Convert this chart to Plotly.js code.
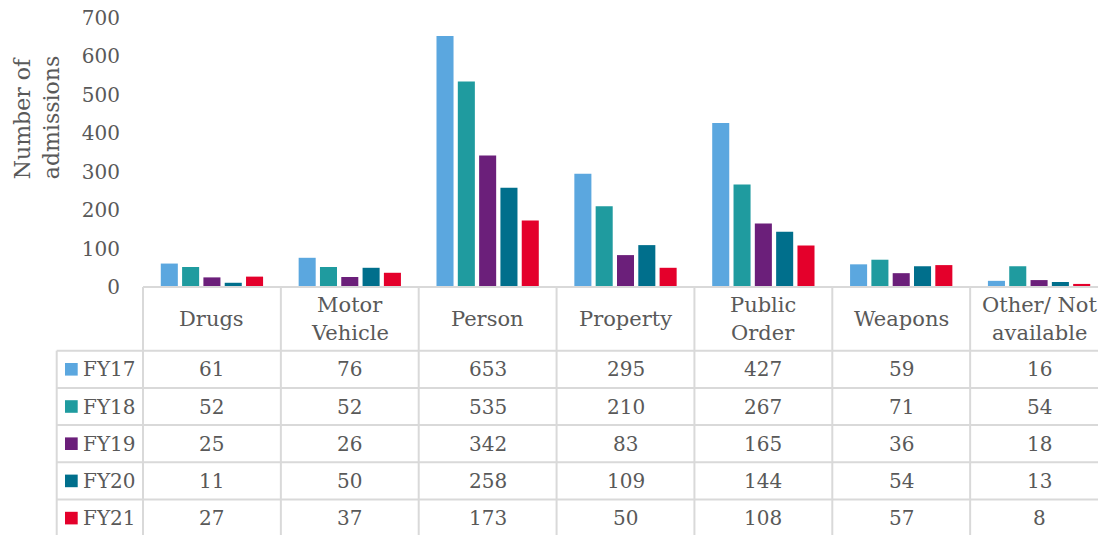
<!DOCTYPE html>
<html><head><meta charset="utf-8">
<script src="https://cdn.plot.ly/plotly-3.0.1.min.js"></script>
<style>html,body{margin:0;padding:0;overflow:hidden;background:#fff;width:1098px;height:535px}#chart{width:1108px;height:535px}</style>
</head><body><div id="chart"></div>
<script>
const categories = ["Drugs", "Motor<br>Vehicle", "Person", "Property", "Public<br>Order", "Weapons", "Other/ Not<br>available"];
const seriesNames = ["FY17", "FY18", "FY19", "FY20", "FY21"];
const fy17 = [61, 76, 653, 295, 427, 59, 16];
const fy18 = [52, 52, 535, 210, 267, 71, 54];
const fy19 = [25, 26, 342, 83, 165, 36, 18];
const fy20 = [11, 50, 258, 109, 144, 54, 13];
const fy21 = [27, 37, 173, 50, 108, 57, 8];
const seriesColors = ["#5BA7DF", "#1F9B9F", "#6B1F7A", "#006F8C", "#E4002B"];
const yTickVals = [0, 100, 200, 300, 400, 500, 600, 700];
const yTitle = "Number of<br>admissions";

const seriesValues = [fy17, fy18, fy19, fy20, fy21];

// geometry (pixels)
const W = 1108, H = 535, ML = 143, MT = 18, MR = 0, MB = 0;
const plotW = W - ML - MR, plotH = H - MT - MB;
const baseY = 287;          // pixel of the category axis / table top
const headerBottom = 350.7;
const rowH = 37.2;
const legendLeft = 56.7;
const px = p => (p - ML) / plotW;
const py = p => (H - MB - p) / plotH;

const FONT = "DejaVu Serif";
const TXT = "#595959";
const GRID = "#D9D9D9";
const FS = 20;      // numbers
const FS_TXT = 21;  // category labels
const FS_TITLE = 22;

const traces = seriesNames.map((name, i) => ({
  type: "bar",
  name: name,
  x: categories,
  y: seriesValues[i],
  marker: {color: seriesColors[i]},
  hoverinfo: "x+y+name"
}));

const shapes = [];
const annotations = [];
const nCat = categories.length;

// table top line (axis line)
shapes.push({type: "line", xref: "paper", yref: "paper", x0: 0, x1: 1, y0: py(baseY), y1: py(baseY), line: {color: GRID, width: 2}});
// row lines
for (let r = 0; r <= seriesNames.length; r++) {
  const yy = headerBottom + r * rowH;
  shapes.push({type: "line", xref: "paper", yref: "paper", x0: px(legendLeft), x1: 1, y0: py(yy), y1: py(yy), line: {color: GRID, width: 2}});
}
// vertical lines for category columns
for (let k = 0; k <= nCat; k++) {
  shapes.push({type: "line", xref: "paper", yref: "paper", x0: k / nCat, x1: k / nCat, y0: py(baseY), y1: py(H + 5), line: {color: GRID, width: 2}});
}
// legend column left border
shapes.push({type: "line", xref: "paper", yref: "paper", x0: px(legendLeft), x1: px(legendLeft), y0: py(headerBottom), y1: py(H + 5), line: {color: GRID, width: 2}});

// header labels
categories.forEach((c, k) => {
  const lines = c.split("<br>");
  const cy = (baseY + headerBottom) / 2;
  const sp = 27.4;
  lines.forEach((ln, j) => {
    const yy = cy + (j - (lines.length - 1) / 2) * sp;
    annotations.push({xref: "x", yref: "paper", x: k, y: py(yy), text: ln, showarrow: false,
      xanchor: "center", yanchor: "middle", font: {family: FONT, size: FS_TXT, color: TXT}});
  });
});

// rows
seriesNames.forEach((name, r) => {
  const cy = headerBottom + rowH * (r + 0.5);
  shapes.push({type: "rect", xref: "paper", yref: "paper", x0: px(65), x1: px(77.7), y0: py(cy - 6.3), y1: py(cy + 6.3),
    fillcolor: seriesColors[r], line: {width: 0}});
  annotations.push({xref: "paper", yref: "paper", x: px(81), y: py(cy), text: name, showarrow: false,
    xanchor: "left", yanchor: "middle", font: {family: FONT, size: FS, color: TXT}});
  seriesValues[r].forEach((v, k) => {
    annotations.push({xref: "x", yref: "paper", x: k, y: py(cy), text: String(v), showarrow: false,
      xanchor: "center", yanchor: "middle", font: {family: FONT, size: FS, color: TXT}});
  });
});

// y title (two lines, placed separately)
const titleLines = yTitle.split("<br>");
const titleX = [22.2, 51.2];
titleLines.forEach((ln, j) => {
  annotations.push({xref: "paper", yref: "paper", x: px(titleX[j]), y: py(118), text: ln, textangle: -90, showarrow: false,
    xanchor: "center", yanchor: "middle", font: {family: FONT, size: FS_TITLE, color: TXT}});
});

const layout = {
  width: W, height: H,
  margin: {l: ML, r: MR, t: MT, b: MB, pad: 0},
  paper_bgcolor: "#fff", plot_bgcolor: "rgba(0,0,0,0)",
  barmode: "group", bargap: 0.227, bargroupgap: 0.2,
  showlegend: false,
  font: {family: FONT, size: FS, color: TXT},
  xaxis: {type: "category", range: [-0.5, nCat - 0.5], showticklabels: false, showline: false, showgrid: false, zeroline: false, ticks: "", fixedrange: true},
  yaxis: {domain: [py(baseY), 1], range: [0, 700], tickvals: yTickVals, showline: false, showgrid: false, zeroline: false,
    ticks: "", ticklabelstandoff: 22, tickfont: {family: FONT, size: FS, color: TXT}, fixedrange: true},
  shapes: shapes,
  annotations: annotations
};

Plotly.newPlot("chart", traces, layout, {displayModeBar: false, staticPlot: true});
</script></body></html>
